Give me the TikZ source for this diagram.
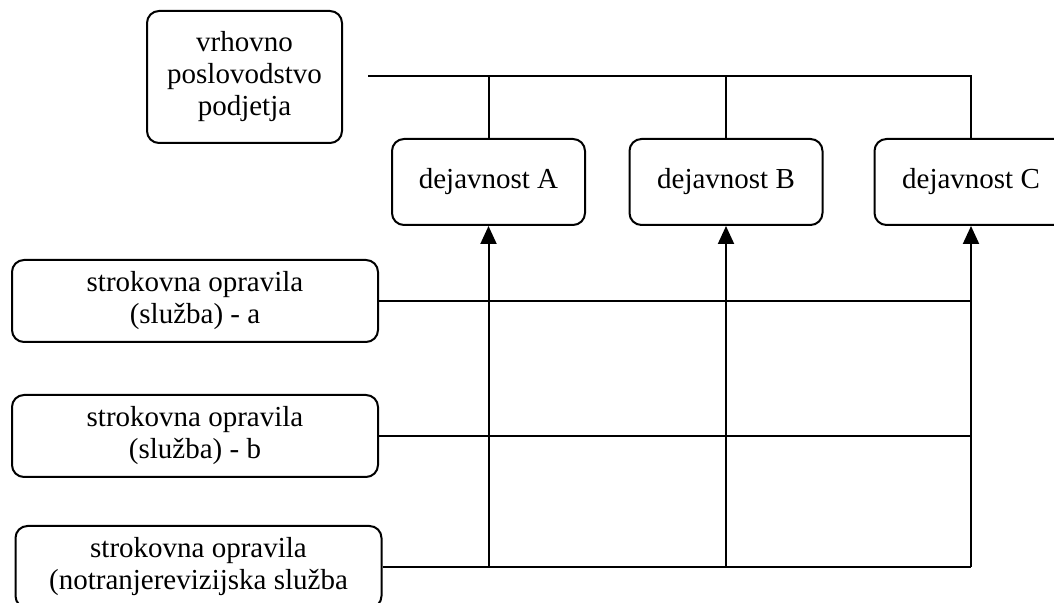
\documentclass[tikz,border=0pt]{standalone}
\usepackage{fontspec}
\setmainfont{Liberation Serif}
\usetikzlibrary{shapes,arrows,arrows.meta}

\begin{document}
\begin{tikzpicture}[x=0.5pt,y=-0.5pt]
    % Define block styles
    \tikzstyle{box} = [rectangle, rounded corners=6pt, inner sep=0pt, text centered, align=center, draw=black, line width=1pt, font=\fontsize{14.5}{16}\selectfont]
    \tikzstyle{top} = [box, minimum width=97.5pt, minimum height=66pt]
    \tikzstyle{activity} = [box, minimum width=96.5pt, minimum height=43pt]
    \tikzstyle{service} = [box, minimum width=183pt, minimum height=41pt]
    \tikzstyle{arrow} = [line width=1pt, -{Triangle[width=8pt,length=9pt]}]
    \tikzstyle{noarrow} = [line width=1pt]

    \useasboundingbox (0,0) rectangle (1054,603);

    % Draw nodes
    \node (mgmt) [top] at (244.5,77) {vrhovno\\poslovodstvo\\podjetja};
    \node (actA) [activity] at (488.5,182) {dejavnost A};
    \node (actB) [activity] at (726,182) {dejavnost B};
    \node (actC) [activity] at (971,182) {dejavnost C};
    \node (srvA) [service] at (195,301) {strokovna opravila\\(služba) - a};
    \node (srvB) [service] at (195,436) {strokovna opravila\\(služba) - b};
    \node (srvC) [service] at (198.5,567) {strokovna opravila\\(notranjerevizijska služba};
    \coordinate (bus) at (368,76);

    % Draw edges
    \draw [noarrow] (bus) -| (actC.north);
    \draw [noarrow] (actA.north) -- (actA.north |- bus);
    \draw [noarrow] (actB.north) -- (actB.north |- bus);
    \draw [noarrow] (srvA.east) -- (srvA.east -| actC.south);
    \draw [noarrow] (srvB.east) -- (srvB.east -| actC.south);
    \draw [noarrow] (srvC.east) -- (srvC.east -| actC.south);
    \draw [arrow] (actA.south |- srvC.east) -- (actA.south);
    \draw [arrow] (actB.south |- srvC.east) -- (actB.south);
    \draw [arrow] (actC.south |- srvC.east) -- (actC.south);

\end{tikzpicture}
\end{document}
